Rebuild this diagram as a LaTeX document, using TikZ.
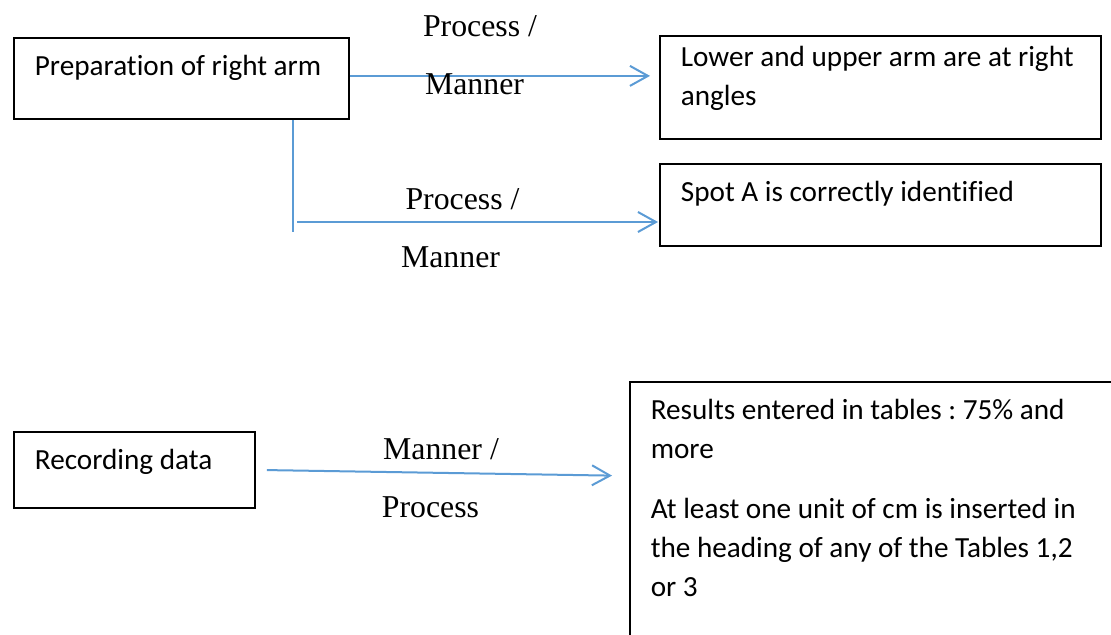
\documentclass[tikz,border=0pt]{standalone}
\usepackage{fontspec}
\setmainfont{Liberation Serif}
\newfontfamily\boxfont[Ligatures=NoCommon]{Carlito}
\usetikzlibrary{arrows.meta}
\definecolor{wordblue}{RGB}{91,155,213}
\frenchspacing

\begin{document}
\begin{tikzpicture}[x=0.5pt,y=-0.5pt,>={Straight Barb[length=9pt,width=10pt]},
      box/.style={draw,line width=0.9pt,anchor=north west,inner xsep=10.5pt,inner ysep=0pt,
        align=flush left,font=\boxfont\fontsize{14.6pt}{19.5pt}\selectfont},
      flow/.style={->,draw=wordblue,line width=1pt},
      branch/.style={draw=wordblue,line width=0.6pt},
      tag/.style={anchor=base,inner sep=0pt,font=\fontsize{15.9pt}{19pt}\selectfont}]
      \clip (0,0) rectangle (1111,635);
      \node[box,text width=146.5pt,text height=19pt,text depth=21.5pt] (prep) at (13,37)
        {\mbox{Preparation of right arm}};
      \node[box,text width=199.5pt,text height=15.5pt,text depth=36pt] (lower) at (659,35)
        {\mbox{Lower and upper arm are at right}\\angles};
      \node[box,text width=199.5pt,text height=19pt,text depth=22pt] (spot) at (659,163)
        {\mbox{Spot A is correctly identified}};
      \node[box,text width=99.5pt,text height=19pt,text depth=19pt] (rec) at (13,431)
        {\mbox{Recording data}};
      \node[box,line width=0.75pt,text width=229pt,text height=19pt,text depth=116pt] (res) at (629,381)
        {\mbox{Results entered in tables : 75\% and}\\more\\[10.5pt]
         \mbox{At least one unit of cm is inserted in}\\
         \mbox{the heading of any of the Tables 1,2}\\or 3};
      \coordinate (split) at (293,232);
      \coordinate (fork) at (297,222);
      \draw[flow,shorten >=4.5pt] ([yshift=1.25pt]prep.east) -- ([yshift=1.25pt]prep.east -| lower.west);
      \draw[branch] (prep.south -| split) -- (split);
      \draw[flow,shorten >=0.5pt] (fork) -- (fork -| spot.west);
      \draw[flow,shorten <=5.5pt,shorten >=8.5pt] (rec.east) -- ([yshift=-3pt]rec.east -| res.west);
      \node[tag] (p_1) at (480,37) {Process /};
      \node[tag] (m_1) at (474.5,95) {Manner};
      \node[tag] (p_2) at (462.5,210) {Process /};
      \node[tag] (m_2) at (450.5,268) {Manner};
      \node[tag] (m_3) at (441,459) {Manner /};
      \node[tag] (p_3) at (430.5,517) {Process};
\end{tikzpicture}
\end{document}
